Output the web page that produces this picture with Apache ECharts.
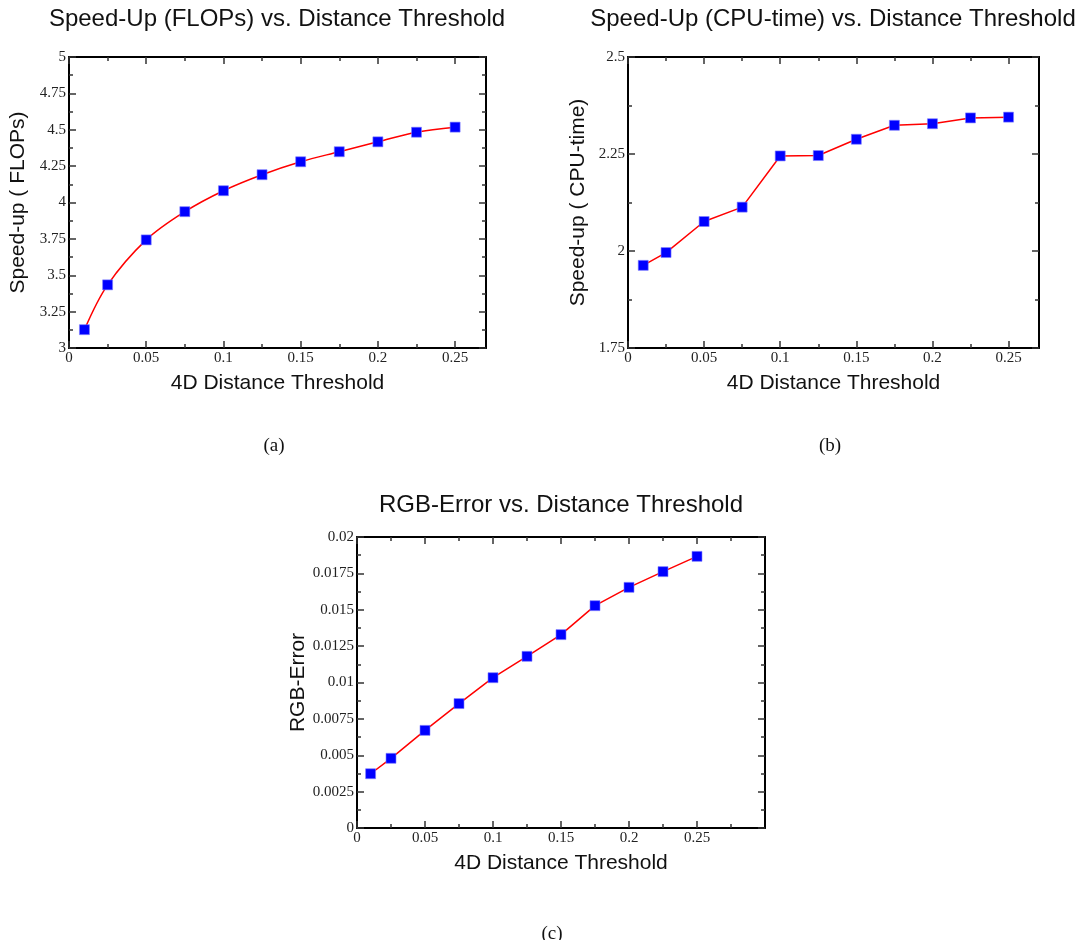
<!DOCTYPE html>
<html>
<head>
<meta charset="utf-8">
<script src="https://cdn.jsdelivr.net/npm/echarts@6/dist/echarts.min.js"></script>
<style>
html,body{margin:0;padding:0;background:#fff;}
#chart{width:1088px;height:940px;}
</style>
</head>
<body>
<div id="chart"></div>
<script>
// ---- data ----
var thresholds = [0.01, 0.025, 0.05, 0.075, 0.1, 0.125, 0.15, 0.175, 0.2, 0.225, 0.25];
var speedupFlops = [3.126, 3.434, 3.743, 3.937, 4.081, 4.191, 4.280, 4.349, 4.417, 4.483, 4.518];
var speedupCpu = [1.963, 1.996, 2.076, 2.113, 2.245, 2.246, 2.288, 2.324, 2.328, 2.343, 2.345];
var rgbError = [0.00373, 0.00479, 0.00671, 0.00855, 0.01033, 0.01180, 0.01329, 0.01528, 0.01654, 0.01762, 0.01867];

var xMajorTicks = [0, 0.05, 0.1, 0.15, 0.2, 0.25];
var xMinorTicks = [0.025, 0.075, 0.125, 0.175, 0.225];
var xMinorTicksC = [0.025, 0.075, 0.125, 0.175, 0.225, 0.275];
var yMajorA = [3, 3.25, 3.5, 3.75, 4, 4.25, 4.5, 4.75, 5];
var yMinorA = [3.125, 3.375, 3.625, 3.875, 4.125, 4.375, 4.625, 4.875];
var yMajorB = [1.75, 2, 2.25, 2.5];
var yMinorB = [1.875, 2.125, 2.375];
var yMajorC = [0, 0.0025, 0.005, 0.0075, 0.01, 0.0125, 0.015, 0.0175, 0.02];
var yMinorC = [0.00125, 0.00375, 0.00625, 0.00875, 0.01125, 0.01375, 0.01625, 0.01875];

var titles = ['Speed-Up (FLOPs) vs. Distance Threshold', 'Speed-Up (CPU-time) vs. Distance Threshold', 'RGB-Error vs. Distance Threshold'];
var yNames = ['Speed-up ( FLOPs)', 'Speed-up ( CPU-time)', 'RGB-Error'];
var xName = '4D Distance Threshold';
var captions = ['(a)', '(b)', '(c)'];

// ---- layout ----
var grids = [
  {left: 69, top: 57, width: 417, height: 291},
  {left: 628, top: 57, width: 411, height: 291},
  {left: 357, top: 537, width: 408, height: 291}
];
var panels = [
  {xMax: 0.27, yMin: 3, yMax: 5, yMajor: yMajorA, yMinor: yMinorA, xMinor: xMinorTicks, data: speedupFlops, smooth: 0.35, yGap: 40},
  {xMax: 0.27, yMin: 1.75, yMax: 2.5, yMajor: yMajorB, yMinor: yMinorB, xMinor: xMinorTicks, data: speedupCpu, smooth: false, yGap: 39},
  {xMax: 0.3, yMin: 0, yMax: 0.02, yMajor: yMajorC, yMinor: yMinorC, xMinor: xMinorTicksC, data: rgbError, smooth: false, yGap: 46.5}
];

var serif = '"Liberation Serif", "Times New Roman", serif';
var sans = '"Liberation Sans", Arial, sans-serif';

function axisSet(gi, dim, min, max, major, minor, name, nameGap) {
  var posA = dim === 'x' ? 'bottom' : 'left';
  var posB = dim === 'x' ? 'top' : 'right';
  var base = function (pos, ticks, len, withLine, withLabel) {
    var a = {
      type: 'value', gridIndex: gi, min: min, max: max, position: pos,
      splitLine: {show: false},
      axisLine: {show: withLine, onZero: false, lineStyle: {color: '#000', width: 2}},
      axisTick: {show: true, inside: true, length: len, customValues: ticks, lineStyle: {color: '#333', width: 1.5}},
      axisLabel: {show: false}
    };
    if (withLabel) {
      a.axisLabel = {
        show: true, customValues: ticks, margin: 3,
        fontFamily: serif, fontSize: 15, color: '#222',
        formatter: function (v) { return String(+v.toPrecision(6)); }
      };
      a.name = name;
      a.nameLocation = 'middle';
      a.nameGap = nameGap;
      a.nameTextStyle = {fontFamily: sans, fontSize: 21, color: '#111'};
      if (dim === 'y') a.nameRotate = 90;
    }
    return a;
  };
  return [
    base(posA, major, 7, true, true),
    base(posA, minor, 4, false, false),
    base(posB, major, 7, true, false),
    base(posB, minor, 4, false, false)
  ];
}

var xAxes = [], yAxes = [], series = [], graphics = [];
panels.forEach(function (p, gi) {
  xAxes = xAxes.concat(axisSet(gi, 'x', 0, p.xMax, xMajorTicks, p.xMinor, xName, 25));
  yAxes = yAxes.concat(axisSet(gi, 'y', p.yMin, p.yMax, p.yMajor, p.yMinor, yNames[gi], p.yGap));
  series.push({
    type: 'line', xAxisIndex: gi * 4, yAxisIndex: gi * 4,
    data: thresholds.map(function (t, i) { return [t, p.data[i]]; }),
    smooth: p.smooth,
    symbol: 'rect', symbolSize: 10,
    itemStyle: {color: '#0000ff', borderColor: '#8080ff', borderWidth: 0.6},
    lineStyle: {color: '#ff0000', width: 1.5},
    animation: false
  });
});

var titlePos = [[277, 19], [833, 19], [561, 505]];
var capPos = [[274, 446], [830, 446], [552, 934]];
titles.forEach(function (t, i) {
  graphics.push({type: 'text', x: titlePos[i][0], y: titlePos[i][1],
    style: {text: t, font: '24px ' + sans, fill: '#111', align: 'center', verticalAlign: 'middle', textAlign: 'center', textVerticalAlign: 'middle'}});
  graphics.push({type: 'text', x: capPos[i][0], y: capPos[i][1],
    style: {text: captions[i], font: '19px ' + serif, fill: '#111', align: 'center', verticalAlign: 'middle', textAlign: 'center', textVerticalAlign: 'middle'}});
});

var chart = echarts.init(document.getElementById('chart'));
chart.setOption({
  animation: false,
  backgroundColor: '#fff',
  grid: grids,
  xAxis: xAxes,
  yAxis: yAxes,
  series: series,
  graphic: graphics
});
</script>
</body>
</html>
